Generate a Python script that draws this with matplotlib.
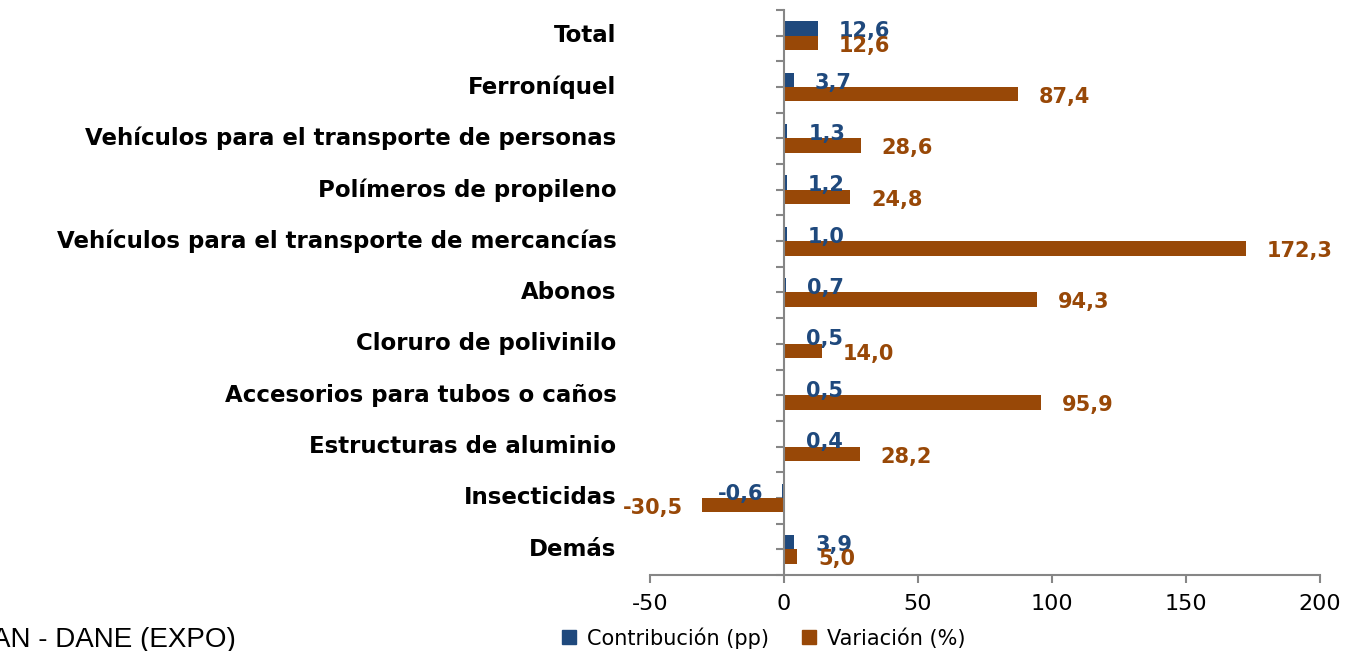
import matplotlib.pyplot as plt
import numpy as np
from matplotlib.patches import Patch

categories = [
    'Total',
    'Ferroníquel',
    'Vehículos para el transporte de personas',
    'Polímeros de propileno',
    'Vehículos para el transporte de mercancías',
    'Abonos',
    'Cloruro de polivinilo',
    'Accesorios para tubos o caños',
    'Estructuras de aluminio',
    'Insecticidas',
    'Demás',
]
contribucion = [12.6, 3.7, 1.3, 1.2, 1.0, 0.7, 0.5, 0.5, 0.4, -0.6, 3.9]
variacion = [12.6, 87.4, 28.6, 24.8, 172.3, 94.3, 14.0, 95.9, 28.2, -30.5, 5.0]
x_ticks = [-50, 0, 50, 100, 150, 200]

blue = '#1F497D'
orange = '#984807'
grey = '#868686'

fig = plt.figure(figsize=(13.51, 6.51), dpi=100)
ax = fig.add_axes([650 / 1351, 76 / 651, 670 / 1351, 565 / 651])

n = len(categories)
pos = np.arange(n)
h = 0.28
ax.barh(pos - h / 2, contribucion, height=h, color=blue, zorder=3)
ax.barh(pos + h / 2, variacion, height=h, color=orange, zorder=3)

ax.set_xlim(-50, 200)
ax.set_ylim(n - 0.5, -0.5)

ax.spines['top'].set_visible(False)
ax.spines['right'].set_visible(False)
ax.spines['left'].set_position(('data', 0))
for s in ('left', 'bottom'):
    ax.spines[s].set_color(grey)
    ax.spines[s].set_linewidth(1.5)
    ax.spines[s].set_zorder(4)

ax.set_yticks(np.arange(-0.5, n, 0.5))
ax.set_yticklabels([])
ax.set_xticks(x_ticks)
ax.set_xticklabels([str(t) for t in x_ticks])
ax.tick_params(axis='y', direction='out', length=6, width=1.5, color=grey)
ax.tick_params(axis='x', direction='out', length=6, width=1.5, color=grey,
               labelsize=16, pad=8)

# category names, right aligned left of the plot area
for i, name in enumerate(categories):
    ax.text(-0.05, i, name, transform=ax.get_yaxis_transform(),
            ha='right', va='center', fontsize=16.5, fontweight='bold', color='black')

def fmt(v):
    return f'{v:.1f}'.replace('.', ',')

for i in range(n):
    for val, off, col in ((contribucion[i], -h / 2, blue), (variacion[i], h / 2, orange)):
        ax.annotate(fmt(val), xy=(val, i + off),
                    xytext=(15 if val >= 0 else -14, -2), textcoords='offset points',
                    ha='left' if val >= 0 else 'right', va='center',
                    fontsize=15, fontweight='bold', color=col, zorder=5)

handles = [Patch(color=blue, label='Contribución (pp)'),
           Patch(color=orange, label='Variación (%)')]
fig.legend(handles=handles, loc='center', bbox_to_anchor=(764 / 1351, 1 - 638 / 651),
           ncol=2, frameon=False, fontsize=15, handlelength=0.65, handleheight=0.65,
           handletextpad=0.55, columnspacing=1.6)

fig.text(-0.006, 0.006, 'AN - DANE (EXPO)', fontsize=20, family='Liberation Sans',
         ha='left', va='baseline', color='black')

fig.savefig('out.png', dpi=100)
